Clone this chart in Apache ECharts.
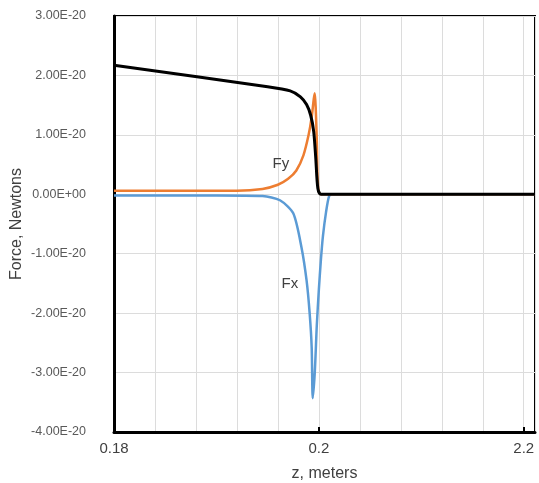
<!DOCTYPE html>
<html>
<head>
<meta charset="utf-8">
<script src="https://cdn.jsdelivr.net/npm/echarts@6/dist/echarts.min.js"></script>
<style>
  html, body { margin: 0; padding: 0; background: #fff; }
  #chart { width: 539px; height: 483px; }
</style>
</head>
<body>
<div id="chart"></div>
<script>
// force values in units of 1e-20 N
var totalZ = [0.18, 0.195, 0.1972, 0.1982, 0.1988, 0.1992, 0.1995, 0.1997, 0.1999, 0.2002, 0.2211];
var totalF = [2.17, 1.81, 1.74, 1.64, 1.51, 1.33, 1.05, 0.60, 0.10, 0, 0];

var fyZ = [0.18, 0.186, 0.192, 0.1945, 0.196, 0.197, 0.1978, 0.1985, 0.199, 0.1993, 0.1995, 0.1996, 0.1998, 0.1999, 0.2002, 0.2211];
var fyF = [0.06, 0.06, 0.06, 0.09, 0.16, 0.26, 0.40, 0.66, 1.0, 1.3, 1.6, 1.7, 0.9, 0.2, 0, 0];

var fxZ = [0.18, 0.19, 0.1945, 0.1962, 0.1975, 0.1983, 0.1988, 0.1991, 0.1993, 0.1994, 0.1996, 0.1998, 0.2, 0.2002, 0.2004, 0.2007, 0.201, 0.2013, 0.2211];
var fxF = [-0.02, -0.02, -0.03, -0.10, -0.32, -0.89, -1.45, -2.0, -2.58, -3.43, -3.0, -2.2, -1.6, -1.1, -0.7, -0.3, -0.03, 0, 0];

var xTickValues = [0.18, 0.2, 0.22];
var xTickLabels = ['0.18', '0.2', '2.2'];

function pairs(xs, ys) {
    return xs.map(function (x, i) { return [x, ys[i]]; });
}

function yFormat(v) {
    if (Math.abs(v) < 1e-9) return '0.00E+00';
    return v.toFixed(2) + 'E-20';
}

var chart = echarts.init(document.getElementById('chart'));
var option = {
    animation: false,
    grid: {
        left: 114, top: 16, right: 4, bottom: 51,
        outerBoundsMode: 'none', containLabel: false,
        show: true, borderColor: '#000', borderWidth: 2
    },
    xAxis: [
        {
            type: 'value', min: 0.18, max: 0.2211,
            name: 'z, meters', nameLocation: 'middle', nameGap: 34,
            nameTextStyle: { fontSize: 16, color: '#404040', fontFamily: 'Liberation Sans' },
            axisLine: { onZero: false, lineStyle: { color: '#000', width: 3 } },
            axisTick: { inside: true, length: 5, customValues: [0.2, 0.22], lineStyle: { color: '#000', width: 2 } },
            axisLabel: {
                customValues: xTickValues,
                fontSize: 15, color: '#404040', margin: 9, fontFamily: 'Liberation Sans',
                formatter: function (v) {
                    for (var i = 0; i < xTickValues.length; i++) {
                        if (Math.abs(v - xTickValues[i]) < 1e-6) return xTickLabels[i];
                    }
                    return '';
                }
            },
            splitLine: { show: false }
        },
        {
            type: 'value', min: 0.18, max: 0.2211, interval: 0.004,
            position: 'bottom',
            axisLine: { show: false, onZero: false }, axisTick: { show: false }, axisLabel: { show: false },
            splitLine: { show: true, lineStyle: { color: '#dcdcdc', width: 1 } }
        }
    ],
    yAxis: [
        {
            type: 'value', min: -4, max: 3, interval: 1,
            name: 'Force, Newtons', nameLocation: 'middle', nameGap: 89,
            nameTextStyle: { fontSize: 16, color: '#404040', fontFamily: 'Liberation Sans' },
            axisLine: { show: true, onZero: false, lineStyle: { color: '#000', width: 3 } },
            axisTick: { show: false },
            axisLabel: { show: false },
            splitLine: { show: true, lineStyle: { color: '#dcdcdc', width: 1 } }
        },
        {
            type: 'value', min: -4, max: 3, interval: 1,
            position: 'left', offset: 20,
            axisLine: { show: false, onZero: false },
            axisTick: { show: false },
            axisLabel: {
                fontSize: 12.5, color: '#595959', fontFamily: 'Liberation Sans',
                formatter: yFormat
            },
            splitLine: { show: false }
        }
    ],
    series: [
        {
            name: 'Fx', type: 'line', data: pairs(fxZ, fxF), showSymbol: false,
            smooth: 0.25,
            lineStyle: { color: '#5B9BD5', width: 2.5 },
            markPoint: {
                symbolSize: 0,
                label: { show: true, formatter: 'Fx', fontSize: 15, color: '#404040', fontFamily: 'Liberation Sans' },
                data: [{ coord: [0.19717, -1.5] }]
            }
        },
        {
            name: 'Fy', type: 'line', data: pairs(fyZ, fyF), showSymbol: false,
            smooth: 0.25,
            lineStyle: { color: '#ED7D31', width: 2.5 },
            markPoint: {
                symbolSize: 0,
                label: { show: true, formatter: 'Fy', fontSize: 15, color: '#404040', fontFamily: 'Liberation Sans' },
                data: [{ coord: [0.19629, 0.52] }]
            }
        },
        {
            name: 'Total', type: 'line', data: pairs(totalZ, totalF), showSymbol: false,
            smooth: 0.25,
            lineStyle: { color: '#000', width: 3 }
        }
    ]
};
chart.setOption(option);
window.onresize = chart.resize;
</script>
</body>
</html>
